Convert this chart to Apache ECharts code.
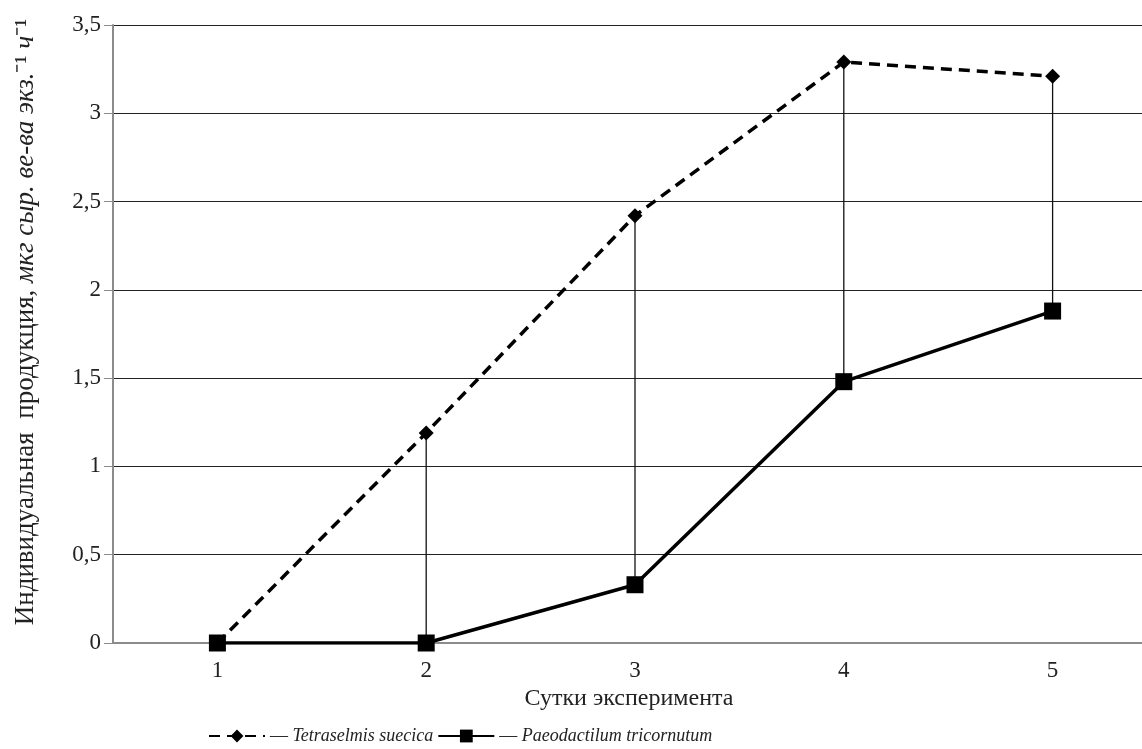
<!DOCTYPE html>
<html><head><meta charset="utf-8">
<script src="https://cdn.jsdelivr.net/npm/echarts@6/dist/echarts.min.js"></script>
<style>html,body{margin:0;padding:0;background:#fff;overflow:hidden;width:1142px;height:749px}#c{width:1157px;height:749px}</style>
</head><body><div id="c"></div>
<script>
const days = ['1', '2', '3', '4', '5'];
const tetraselmis = [0, 1.19, 2.42, 3.29, 3.21];
const paeodactilum = [0, 0, 0.33, 1.48, 1.88];
const yTicks = [0, 0.5, 1, 1.5, 2, 2.5, 3, 3.5];
const nameT = 'Tetraselmis suecica';
const nameP = 'Paeodactilum tricornutum';

const F = 'Liberation Serif';
const chart = echarts.init(document.getElementById('c'));
const hiLo = days.map((d, i) => [i, paeodactilum[i], tetraselmis[i]]);

chart.setOption({
  animation: false,
  backgroundColor: '#fff',
  grid: { left: 113, top: 25, right: 0, bottom: 106 },
  xAxis: {
    type: 'category', data: days, boundaryGap: true,
    axisLine: { lineStyle: { color: '#8c8c8c', width: 2 } },
    axisTick: { show: false },
    axisLabel: { color: '#222', fontFamily: F, fontSize: 23, margin: 16 },
    name: 'Сутки эксперимента', nameLocation: 'middle', nameGap: 41,
    nameTextStyle: { color: '#222', fontFamily: F, fontSize: 24, padding: [0, 12, 0, 0] }
  },
  yAxis: {
    type: 'value', min: yTicks[0], max: yTicks[yTicks.length - 1], interval: 0.5,
    axisLine: { show: true, lineStyle: { color: '#8c8c8c', width: 2 } },
    axisTick: { show: true, length: 9, lineStyle: { color: '#8c8c8c', width: 1 } },
    splitLine: { lineStyle: { color: '#222', width: 1 } },
    axisLabel: { color: '#222', fontFamily: F, fontSize: 23, margin: 12,
      formatter: v => String(v).replace('.', ',') },
    name: '{n|Индивидуальная  продукция, }{i|мкг сыр. ве-ва экз.}{n|⁻¹ }{i|ч}{n|⁻¹}',
    nameLocation: 'middle', nameGap: 74,
    nameTextStyle: {
      color: '#222', fontFamily: F, fontSize: 27, padding: [0, 0, 0, 24],
      rich: {
        n: { fontFamily: F, fontSize: 27, color: '#222' },
        i: { fontFamily: F, fontSize: 27, color: '#222', fontStyle: 'italic' }
      }
    }
  },
  legend: {
    bottom: -1, left: 203, itemWidth: 56, itemHeight: 16, itemGap: 4,
    data: [nameT, nameP],
    formatter: n => '{d|— }{i|' + n + '}',
    textStyle: {
      color: '#222', fontFamily: F, fontSize: 18,
      rich: {
        d: { fontFamily: F, fontSize: 18, color: '#222' },
        i: { fontFamily: F, fontSize: 18, color: '#222', fontStyle: 'italic' }
      }
    }
  },
  series: [
    {
      type: 'custom', name: 'hilo', z: 1, silent: true,
      data: hiLo,
      renderItem: (params, api) => {
        const a = api.coord([api.value(0), api.value(1)]);
        const b = api.coord([api.value(0), api.value(2)]);
        return { type: 'line', shape: { x1: a[0], y1: a[1], x2: b[0], y2: b[1] },
          style: { stroke: '#111', lineWidth: 1.3 } };
      },
      encode: { x: 0, y: [1, 2] }
    },
    {
      type: 'line', name: nameT, data: tetraselmis, z: 3,
      symbol: 'diamond', symbolSize: 15,
      lineStyle: { color: '#000', width: 3.5, type: [11, 7] },
      itemStyle: { color: '#000' }
    },
    {
      type: 'line', name: nameP, data: paeodactilum, z: 4,
      symbol: 'rect', symbolSize: 17,
      lineStyle: { color: '#000', width: 3.5 },
      itemStyle: { color: '#000' }
    }
  ]
});
</script></body></html>
